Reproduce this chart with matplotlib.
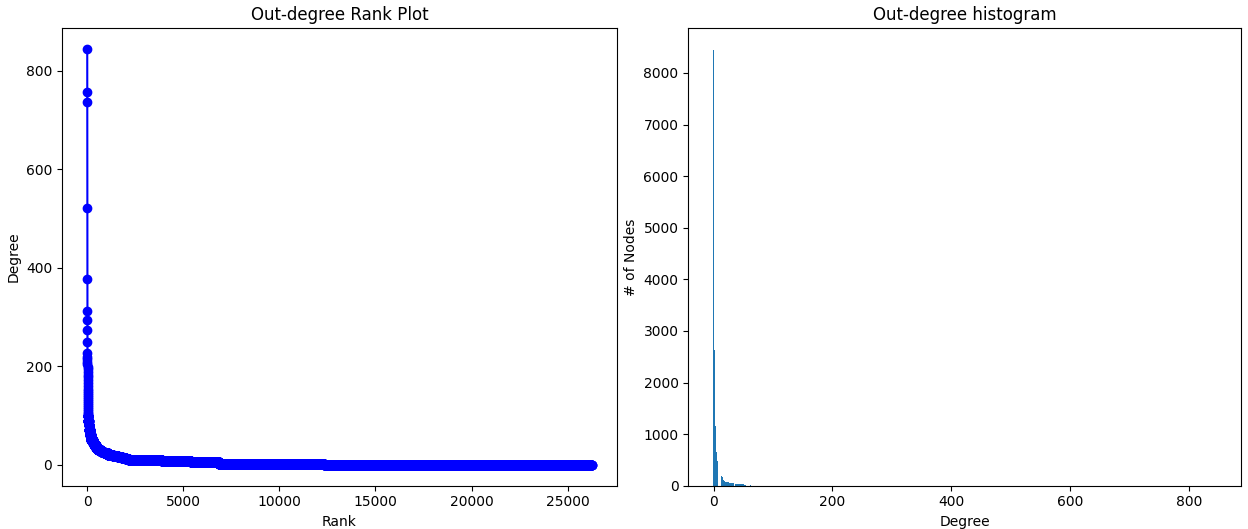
import numpy as np
import matplotlib
matplotlib.use("Agg")
import matplotlib.pyplot as plt

# Rank plot: the largest out-degrees
top_degrees = [845, 758, 736, 522, 378, 312, 295, 274, 249, 228, 220, 214,
               209, 204, 199, 194, 188, 183, 178, 172, 166, 160, 155, 150,
               146, 142, 138, 134, 130, 126, 122, 118, 114, 110, 106, 103]

# the long tail as (degree level, number of nodes at that level)
tail_degrees = [100, 90, 80, 70, 60, 50, 45, 40, 35, 30, 27, 24, 21,
                18, 16, 14, 12, 10, 9, 7, 5, 2, 0]
tail_counts = [15, 20, 30, 40, 60, 90, 70, 90, 120, 170, 150, 200, 250,
               250, 220, 190, 160, 145, 1570, 1510, 1480, 5480, 13900]

# Histogram: degree value -> number of nodes
hist_degree = [0, 1, 2, 3, 4, 5, 6, 7,
               13, 14, 15, 16, 17, 18, 19, 20, 21, 22, 23, 24, 25, 26,
               27, 28, 29, 30, 31, 32, 33,
               37, 38, 39, 40, 41, 42, 43, 44, 45, 46, 47, 48, 49, 50,
               51, 52, 53, 54, 61, 62,
               522, 736, 758, 845]
hist_count = [8450, 2630, 2630, 1160, 645, 645, 484, 484,
              194, 194, 160, 129, 110, 84, 84, 66, 65, 64, 63, 62, 62, 61,
              60, 60, 59, 58, 57, 56, 55,
              26, 26, 26, 25, 25, 25, 25, 24, 24, 24, 24, 23, 23, 23,
              22, 22, 22, 22, 19, 19,
              1, 1, 1, 1]

degree_sequence = np.concatenate([np.array(top_degrees),
                                  np.repeat(tail_degrees, tail_counts)])

plt.rcParams['font.family'] = 'DejaVu Sans'

fig = plt.figure(figsize=(12.48, 5.29), dpi=100)
ax1 = fig.add_axes([0.0497, 0.0819, 0.4445, 0.8652])
ax2 = fig.add_axes([0.5515, 0.0819, 0.4429, 0.8652])

ax1.plot(degree_sequence, "b-", marker="o")
ax1.set_title("Out-degree Rank Plot")
ax1.set_ylabel("Degree")
ax1.set_xlabel("Rank")

# contiguous bars (width 1) so neighbouring degrees merge like the original
ax2.bar(hist_degree, hist_count, width=1.0)
ax2.set_title("Out-degree histogram")
ax2.set_xlabel("Degree")
ax2.set_ylabel("# of Nodes")

fig.savefig("out.png", dpi=100)
